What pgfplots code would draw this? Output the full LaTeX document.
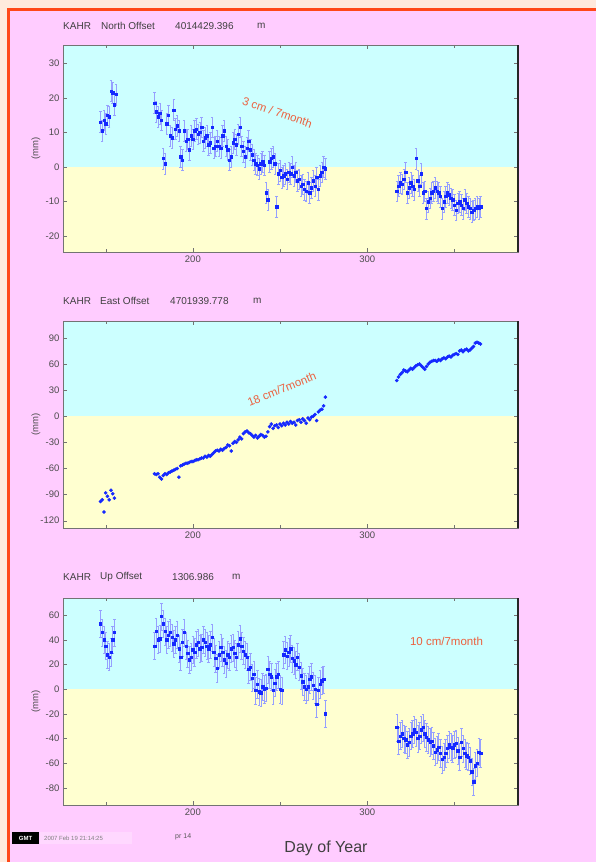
\documentclass[border=0pt]{standalone}
\usepackage{fontspec}
\setmainfont{Liberation Sans}
\usepackage{pgfplots}
\pgfplotsset{compat=1.18}
\usepackage{pgfplotstable}
\definecolor{peach}{RGB}{255,234,220}
\definecolor{pinkbg}{RGB}{255,204,255}
\definecolor{frameor}{RGB}{255,72,24}
\definecolor{cyanbg}{RGB}{204,255,255}
\definecolor{yelbg}{RGB}{255,255,208}
\definecolor{annot}{RGB}{236,96,62}
\definecolor{ebar}{RGB}{150,160,255}
\definecolor{ptblue}{RGB}{20,40,255}

\pgfplotstableread{
x y
147 13.0
148 10.5
149 13.5
150 12.5
151 15.0
152 14.5
153 22.0
154 21.5
155 18.0
156 21.0
178 18.5
179 16.0
180 14.5
181 15.5
182 13.5
183 2.5
184 1.0
185 12.5
186 15.0
187 9.0
188 8.5
189 16.5
190 11.0
191 12.0
192 10.5
193 3.0
194 2.0
195 10.5
196 7.5
197 8.0
198 5.0
199 9.0
200 8.0
201 10.5
202 11.0
203 9.5
204 10.0
205 11.5
206 7.5
207 8.5
208 9.0
209 6.5
210 7.0
211 11.5
212 5.5
213 6.0
214 7.5
215 6.0
216 5.5
217 9.0
218 10.5
219 6.0
220 5.0
221 2.0
222 3.0
223 7.0
224 8.0
225 6.5
226 9.5
227 11.5
228 6.0
229 4.5
230 3.0
231 5.5
232 7.5
233 5.0
234 3.5
235 2.0
236 1.0
237 0.5
238 -0.5
239 1.0
240 1.5
241 0.5
242 -7.5
243 -9.5
244 1.5
245 2.5
246 3.0
247 1.0
248 -11.5
249 -2.0
250 -1.0
251 -3.0
252 -2.5
253 -2.0
254 -3.5
255 -1.5
256 -2.0
257 0.0
258 -2.5
259 -1.5
260 -4.0
261 -3.5
262 -5.5
263 -5.0
264 -6.5
265 -7.0
266 -4.5
267 -7.5
268 -6.0
269 -4.0
270 -5.5
271 -3.0
272 -6.5
273 -2.5
274 -1.5
275 0.0
276 -0.5
317 -7.0
318 -5.5
319 -4.5
320 -5.0
321 -3.5
322 -1.5
323 -7.5
324 -6.0
325 -4.5
326 -5.5
327 -6.5
328 2.5
329 -4.0
330 -5.5
331 -2.0
332 -7.5
333 -7.0
334 -12.0
335 -10.0
336 -9.0
337 -7.5
338 -7.0
339 -6.0
340 -7.0
341 -7.5
342 -8.5
343 -12.0
344 -10.0
345 -8.5
346 -7.5
347 -8.0
348 -9.0
349 -9.5
350 -11.0
351 -12.5
352 -10.5
353 -10.0
354 -11.0
355 -12.0
356 -9.5
357 -10.5
358 -11.5
359 -12.0
360 -13.0
361 -12.5
362 -12.0
363 -11.5
364 -12.0
365 -11.5
}\northdata

\pgfplotstableread{
x y
147 -98
148 -96
149 -110
150 -88
151 -92
152 -96
153 -85
154 -89
155 -94
178 -66
179 -67
180 -66
181 -70
182 -72
183 -68
184 -66
185 -67
186 -65
187 -64
188 -63
189 -62
190 -61
191 -60
192 -70
193 -57
194 -56
195 -55
196 -54
197 -54
198 -53
199 -52
200 -52
201 -51
202 -50
203 -50
204 -49
205 -48
206 -48
207 -46
208 -47
209 -45
210 -46
211 -44
212 -42
213 -40
214 -39
215 -40
216 -38
217 -39
218 -37
219 -36
220 -33
221 -34
222 -40
223 -31
224 -29
225 -30
226 -27
227 -24
228 -26
229 -20
230 -18
231 -17
232 -19
233 -20
234 -22
235 -24
236 -22
237 -25
238 -23
239 -21
240 -22
241 -24
242 -23
243 -18
244 -12
245 -9
246 -14
247 -11
248 -10
249 -13
250 -9
251 -11
252 -8
253 -10
254 -7
255 -9
256 -6
257 -8
258 -7
259 -10
260 -5
261 -4
262 -7
263 -3
264 -5
265 -8
266 -2
267 -4
268 -1
269 0
270 2
271 -5
272 5
273 7
274 8
275 12
276 22
317 41
318 45
319 48
320 50
321 53
322 52
323 51
324 53
325 55
326 54
327 56
328 58
329 59
330 60
331 58
332 56
333 54
334 57
335 60
336 62
337 63
338 64
339 64
340 63
341 65
342 64
343 66
344 67
345 66
346 68
347 69
348 68
349 70
350 71
351 72
352 71
353 75
354 76
355 74
356 76
357 77
358 75
359 76
360 78
361 80
362 84
363 85
364 84
365 83
}\eastdata

\pgfplotstableread{
x y
147 53
148 46
149 40
150 35
151 28
152 26
153 30
154 40
155 46
178 35
179 47
180 40
181 41
182 59
183 53
184 47
185 40
186 44
187 46
188 42
189 37
190 40
191 44
192 33
193 26
194 38
195 46
196 35
197 29
198 24
199 26
200 32
201 30
202 36
203 38
204 33
205 34
206 40
207 38
208 35
209 33
210 36
211 42
212 30
213 25
214 17
215 28
216 34
217 30
218 24
219 21
220 28
221 26
222 33
223 34
224 29
225 26
226 36
227 41
228 35
229 31
230 28
231 26
232 16
233 18
234 9
235 12
236 -1
237 4
238 -2
239 -3
240 2
241 0
242 1
243 16
244 12
245 10
246 -1
247 5
248 10
249 12
250 0
251 -1
252 28
253 32
254 27
255 30
256 33
257 25
258 23
259 20
260 26
261 18
262 11
263 6
264 2
265 0
266 2
267 8
268 10
269 3
270 0
271 -12
272 -1
273 4
274 7
275 8
276 -20
317 -31
318 -42
319 -38
320 -36
321 -40
322 -41
323 -45
324 -43
325 -38
326 -36
327 -33
328 -35
329 -40
330 -38
331 -33
332 -31
333 -36
334 -39
335 -41
336 -43
337 -42
338 -46
339 -51
340 -49
341 -47
342 -52
343 -57
344 -55
345 -52
346 -48
347 -45
348 -47
349 -48
350 -45
351 -44
352 -50
353 -55
354 -43
355 -48
356 -52
357 -54
358 -55
359 -58
360 -67
361 -75
362 -62
363 -60
364 -51
365 -52
}\updata

\pgfplotsset{
 panel/.style={
  scale only axis, width=455pt, height=207pt,
  xmin=125.5, xmax=386.5,
  xtick={200,300}, minor xtick={150,250,350},
  axis on top,
  axis line style={black!55, line width=0.7pt},
  tick style={black!55},
  major tick length=4pt, minor tick length=3pt,
  tick label style={font=\fontsize{9.5}{10}\selectfont, text=black!70},
  /pgf/number format/assume math mode=true,
  ylabel={(mm)},
  ylabel style={at={(axis description cs:-0.0593,0.5)}, anchor=center,
    font=\fontsize{9.5}{10}\selectfont, text=black!70},
  after end axis/.code={\draw[black!85, line width=1.6pt] (rel axis cs:1,0) -- (rel axis cs:1,1);},
 },
 errpts/.style={
  only marks, mark=square*, mark size=1.2pt, color=ptblue,
  error bars/.cd, y dir=both, y fixed=#1,
  error bar style={color=ebar, line width=0.5pt},
  error mark options={rotate=90, mark size=1.2pt, color=ebar},
 },
}

\begin{document}
\begin{tikzpicture}[x=1pt,y=1pt]
\useasboundingbox (0,0) rectangle (596,862);
\fill[peach] (0,0) rectangle (596,862);
\fill[pinkbg] (9,0) rectangle (596,852);
\draw[frameor, line width=2.6pt] (8.3,0) -- (8.3,852.7) -- (596,852.7);

% titles
\begin{scope}[every node/.style={anchor=west, inner sep=0pt, font=\fontsize{10}{11}\selectfont, text=black!75}]
\node at (63,836) {KAHR};
\node at (101,836) {North Offset};
\node at (175,836) {4014429.396};
\node at (257,836) {m};
\node at (63,561) {KAHR};
\node at (100,561) {East Offset};
\node at (170,561) {4701939.778};
\node at (253,561) {m};
\node at (63,285) {KAHR};
\node at (100,285) {Up Offset};
\node at (172,285) {1306.986};
\node at (232,285) {m};
\end{scope}

% North
\begin{axis}[panel, at={(63pt,610pt)}, anchor=south west,
  ymin=-24.6, ymax=35.3, ytick={-20,-10,0,10,20,30}]
\fill[yelbg] (axis cs:125.5,-24.6) rectangle (axis cs:386.5,0);
\fill[cyanbg] (axis cs:125.5,0) rectangle (axis cs:386.5,35.3);
\addplot[errpts=3] table[x=x,y=y] {\northdata};
\node[rotate=-19, text=annot, font=\fontsize{11.5}{12}\selectfont] at (axis cs:248.5,15.8) {3 cm / 7month};
\end{axis}

% East
\begin{axis}[panel, at={(63pt,333.7pt)}, anchor=south west,
  ymin=-128.7, ymax=109, ytick={-120,-90,-60,-30,0,30,60,90}]
\fill[yelbg] (axis cs:125.5,-128.7) rectangle (axis cs:386.5,0);
\fill[cyanbg] (axis cs:125.5,0) rectangle (axis cs:386.5,109);
\addplot[only marks, mark=*, mark size=1.6pt, color=ptblue] table[x=x,y=y] {\eastdata};
\node[rotate=22, text=annot, font=\fontsize{11.5}{12}\selectfont] at (axis cs:251,31) {18 cm/7month};
\end{axis}

% Up
\begin{axis}[panel, at={(63pt,57pt)}, anchor=south west,
  ymin=-94, ymax=74, ytick={-80,-60,-40,-20,0,20,40,60}]
\fill[yelbg] (axis cs:125.5,-94) rectangle (axis cs:386.5,0);
\fill[cyanbg] (axis cs:125.5,0) rectangle (axis cs:386.5,74);
\addplot[errpts=11] table[x=x,y=y] {\updata};
\node[text=annot, font=\fontsize{11.5}{12}\selectfont] at (axis cs:345.5,39) {10 cm/7month};
\end{axis}

% footer
\fill[black] (12,18) rectangle (39,30);
\node[text=white, font=\fontsize{6}{7}\selectfont\bfseries, inner sep=0pt] at (25.5,24) {GMT};
\fill[white, opacity=0.25] (40,18) rectangle (132,30);
\node[anchor=west, inner sep=0pt, text=black!50, font=\fontsize{6}{7}\selectfont] at (44,24) {2007 Feb 19 21:14:25};
\node[anchor=west, inner sep=0pt, text=black!65, font=\fontsize{7}{8}\selectfont] at (175,25) {pr 14};
\node[inner sep=0pt, text=black!75, font=\fontsize{16}{18}\selectfont] at (326,14) {Day of Year};
\end{tikzpicture}
\end{document}
